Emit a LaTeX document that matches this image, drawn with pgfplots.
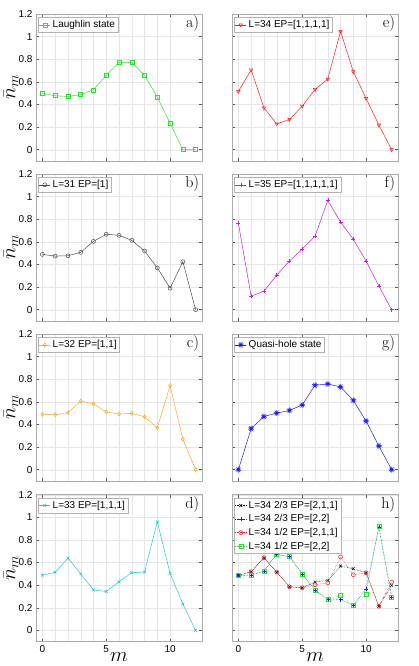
\documentclass[border=0pt]{standalone}
\usepackage{fontspec}
\setsansfont{Liberation Sans}
\usepackage{pgfplots}
\pgfplotsset{compat=1.18}
\usetikzlibrary{plotmarks}
\definecolor{cA}{rgb}{0.15,0.9,0.15}
\definecolor{cB}{rgb}{0.3,0.3,0.3}
\definecolor{cC}{rgb}{1,0.65,0.1}
\definecolor{cD}{rgb}{0.1,0.8,0.8}
\definecolor{cE}{rgb}{1,0.1,0.1}
\definecolor{cF}{rgb}{0.8,0.1,0.8}
\definecolor{cG}{rgb}{0.1,0.1,1}
\pgfplotsset{
  panel/.style={
    width=166pt, height=147pt, scale only axis,
    xmin=-0.5, xmax=12.5, ymin=-0.1, ymax=1.2,
    xtick={0,5,10}, ytick={0,0.2,0.4,0.6,0.8,1,1.2},
    minor x tick num=4,
    grid=both,
    major grid style={gray!20, line width=0.3pt},
    minor grid style={gray!20, line width=0.3pt},
    tick align=inside,
    major tick length=3pt, minor tick length=0pt,
    tick style={gray!70!black, line width=0.4pt},
    axis line style={gray!65, line width=0.6pt},
    ticklabel style={font=\sffamily\fontsize{10}{12}\selectfont},
    /pgf/number format/assume math mode=true,
    xticklabel=\empty, yticklabel=\empty,
    legend style={at={(0.01,0.978)}, anchor=north west, draw=gray!60, fill=white,
      font=\sffamily\fontsize{10}{11}\selectfont, inner sep=1pt, row sep=0.8pt,
      cells={anchor=west}},
    legend image code/.code={\draw[mark repeat=2,mark phase=2] plot coordinates {(0cm,0cm) (0.2cm,0cm) (0.4cm,0cm)};},
    every axis plot/.append style={line width=0.5pt, mark size=2pt},
  },
  leftcol/.style={yticklabel={\pgfmathprintnumber{\tick}},
    ylabel={$\bar{n}_m$},
    ylabel style={at={(axis description cs:-0.15,0.5)}, anchor=center, inner sep=0pt, font=\fontsize{20}{24}\selectfont}},
  bottomrow/.style={xticklabel={\pgfmathprintnumber{\tick}},
    xlabel={$m$},
    xlabel style={at={(axis description cs:0.5,-0.138)}, anchor=base, inner sep=0pt, font=\fontsize{20}{24}\selectfont}},
}
\newcommand{\plabel}[1]{\node[anchor=north east, inner sep=0pt, font=\fontsize{16}{18}\selectfont] at (rel axis cs:0.984,0.99) {#1};}
\begin{document}
\begin{tikzpicture}
\path[use as bounding box] (0pt,0pt) rectangle (419pt,666pt);
% a
\begin{axis}[panel, leftcol, at={(36pt,652pt)}, anchor=north west]
\addplot[color=cA, mark=square] coordinates {(0,0.498)(1,0.477)(2,0.471)(3,0.486)(4,0.53)(5,0.658)(6,0.773)(7,0.773)(8,0.658)(9,0.465)(10,0.234)(11,0)(12,0)};
\addlegendentry{Laughlin state}
\plabel{a)}
\end{axis}
% e
\begin{axis}[panel, at={(232pt,652pt)}, anchor=north west]
\addplot[color=cE, mark=triangle, mark options={rotate=180}] coordinates {(0,0.516)(1,0.705)(2,0.37)(3,0.228)(4,0.267)(5,0.385)(6,0.533)(7,0.625)(8,1.046)(9,0.69)(10,0.453)(11,0.219)(12,0)};
\addlegendentry{L=34 EP=[1,1,1,1]}
\plabel{e)}
\end{axis}
% b
\begin{axis}[panel, leftcol, at={(36pt,492pt)}, anchor=north west]
\addplot[color=cB, mark=o] coordinates {(0,0.489)(1,0.474)(2,0.477)(3,0.507)(4,0.604)(5,0.667)(6,0.658)(7,0.613)(8,0.519)(9,0.37)(10,0.19)(11,0.424)(12,0)};
\addlegendentry{L=31 EP=[1]}
\plabel{b)}
\end{axis}
% f
\begin{axis}[panel, at={(232pt,492pt)}, anchor=north west]
\addplot[color=cF, mark=+] coordinates {(0,0.764)(1,0.119)(2,0.163)(3,0.305)(4,0.43)(5,0.536)(6,0.649)(7,0.966)(8,0.776)(9,0.622)(10,0.43)(11,0.21)(12,0)};
\addlegendentry{L=35 EP=[1,1,1,1,1]}
\plabel{f)}
\end{axis}
% c
\begin{axis}[panel, leftcol, at={(36pt,332pt)}, anchor=north west]
\addplot[color=cC, mark=diamond] coordinates {(0,0.489)(1,0.486)(2,0.504)(3,0.607)(4,0.584)(5,0.51)(6,0.492)(7,0.498)(8,0.468)(9,0.37)(10,0.744)(11,0.27)(12,0)};
\addlegendentry{L=32 EP=[1,1]}
\plabel{c)}
\end{axis}
% g
\begin{axis}[panel, at={(232pt,332pt)}, anchor=north west]
\addplot[color=cG, mark=10-pointed star, mark size=3pt, mark options={fill=cG}] coordinates {(0,0)(1,0.364)(2,0.47)(3,0.5)(4,0.524)(5,0.572)(6,0.747)(7,0.758)(8,0.732)(9,0.613)(10,0.43)(11,0.21)(12,0)};
\addlegendentry{Quasi-hole state}
\plabel{g)}
\end{axis}
% d
\begin{axis}[panel, leftcol, bottomrow, at={(36pt,171.3pt)}, anchor=north west]
\addplot[color=cD, mark=x] coordinates {(0,0.489)(1,0.513)(2,0.64)(3,0.5)(4,0.358)(5,0.344)(6,0.43)(7,0.51)(8,0.516)(9,0.96)(10,0.504)(11,0.234)(12,0)};
\addlegendentry{L=33 EP=[1,1,1]}
\plabel{d)}
\end{axis}
% h
\begin{axis}[panel, bottomrow, at={(232pt,171.3pt)}, anchor=north west]
\addplot[color=black, densely dotted, mark=x, mark options={solid}] coordinates {(0,0.486)(1,0.519)(2,0.643)(3,0.513)(4,0.386)(5,0.377)(6,0.427)(7,0.442)(8,0.569)(9,0.545)(10,0.51)(11,0.213)(12,0.397)};
\addlegendentry{L=34 2/3 EP=[2,1,1]}
\addplot[color=cG, densely dotted, mark=+, mark options={solid}] coordinates {(0,0.486)(1,0.489)(2,0.525)(3,0.672)(4,0.652)(5,0.5)(6,0.353)(7,0.279)(8,0.273)(9,0.22)(10,0.368)(11,0.91)(12,0.297)};
\addlegendentry{L=34 2/3 EP=[2,2]}
\addplot[color=cE, densely dotted, mark=o, mark options={solid}] coordinates {(0,0.486)(1,0.519)(2,0.643)(3,0.516)(4,0.386)(5,0.377)(6,0.403)(7,0.421)(8,0.649)(9,0.492)(10,0.51)(11,0.213)(12,0.427)};
\addlegendentry{L=34 1/2 EP=[2,1,1]}
\addplot[color=cA, densely dotted, mark=square, mark options={solid}] coordinates {(0,0.486)(1,0.489)(2,0.525)(3,0.672)(4,0.652)(5,0.5)(6,0.353)(7,0.279)(8,0.308)(9,0.22)(10,0.323)(11,0.92)(12,0.297)};
\addlegendentry{L=34 1/2 EP=[2,2]}
\plabel{h)}
\end{axis}
\end{tikzpicture}
\end{document}
